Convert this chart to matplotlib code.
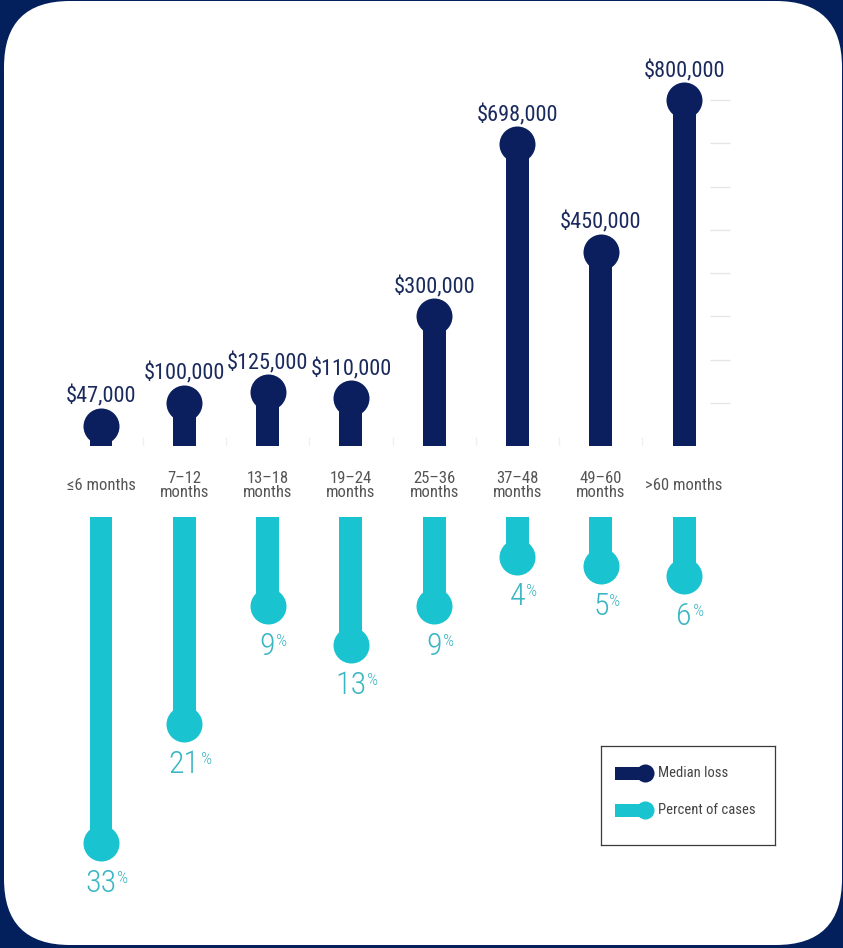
import matplotlib
matplotlib.use('Agg')
import matplotlib.pyplot as plt
from matplotlib.patches import FancyBboxPatch, Rectangle
from matplotlib.transforms import IdentityTransform
from matplotlib import font_manager

# Scheme duration vs. median loss and share of cases
categories = ['≤6 months', '7–12\nmonths', '13–18\nmonths', '19–24\nmonths',
              '25–36\nmonths', '37–48\nmonths', '49–60\nmonths', '>60 months']
median_loss = [47000, 100000, 125000, 110000, 300000, 698000, 450000, 800000]
percent_cases = [33, 21, 9, 13, 9, 4, 5, 6]
grid_levels = [100000, 200000, 300000, 400000, 500000, 600000, 700000, 800000]

NAVY = '#0b1f5e'
NAVY_TEXT = '#1b2a5c'
FRAME = '#03205c'
TEAL = '#19c3cf'
TEAL_TEXT = '#3ab6c3'
GRAY_TEXT = '#555555'


def pick_font(names):
    for n in names:
        try:
            font_manager.findfont(font_manager.FontProperties(family=n),
                                  fallback_to_default=False)
            return n
        except ValueError:
            pass
    return 'DejaVu Sans'


narrow = pick_font(['Roboto Condensed', 'Liberation Sans Narrow',
                    'DejaVu Sans Condensed', 'Roboto'])
fam = [narrow, 'DejaVu Sans']

W, H = 843, 948
fig = plt.figure(figsize=(W / 100, H / 100), dpi=100, facecolor=FRAME)

# white rounded card
card = FancyBboxPatch((4, 3), 838, 944, boxstyle='round,pad=0,rounding_size=66',
                      facecolor='white', edgecolor='none',
                      transform=IdentityTransform(), zorder=-1)
fig.add_artist(card)

x = list(range(len(categories)))
bar_w = 0.276
dot_s = 672

# top half: median loss
ax_top = fig.add_axes([59.35 / W, (H - 446) / H, 666.4 / W, 389 / H])
ax_top.set_xlim(-0.5, 7.5)
ax_top.set_ylim(0, 900000)
ax_top.axis('off')

ax_top.hlines(grid_levels, 7.31, 7.55, color='#e6e6e6', lw=1, clip_on=False)
ax_top.vlines([i + 0.5 for i in range(len(x) - 1)], 0, 20000, color='#f0f0f0', lw=1)
ax_top.bar(x, median_loss, width=bar_w, color=NAVY, zorder=2)
ax_top.scatter(x, median_loss, s=dot_s, color=NAVY, linewidths=0, zorder=3, clip_on=False)

for xi, v in zip(x, median_loss):
    ax_top.annotate(f'${v:,}', xy=(xi, v), xytext=(0, 16.5), textcoords='offset points',
                    ha='center', va='baseline', fontsize=16, color=NAVY_TEXT, family=fam)

for xi, cat in zip(x, categories):
    ax_top.annotate(cat, xy=(xi, 0), xytext=(0, -28.5), textcoords='offset points',
                    ha='center', va='center', fontsize=12, color=GRAY_TEXT,
                    family=fam, linespacing=0.95, annotation_clip=False)

# bottom half: percent of cases, hanging down
ax_bot = fig.add_axes([59.35 / W, (H - 912.2) / H, 666.4 / W, 395.2 / H])
ax_bot.set_xlim(-0.5, 7.5)
ax_bot.set_ylim(40, 0)
ax_bot.axis('off')

ax_bot.bar(x, percent_cases, width=bar_w, color=TEAL, zorder=2)
ax_bot.scatter(x, percent_cases, s=dot_s, color=TEAL, linewidths=0, zorder=3, clip_on=False)

for xi, p in zip(x, percent_cases):
    num = ax_bot.annotate(f'{p}', xy=(xi, p), xytext=(0, -35), textcoords='offset points',
                          ha='center', va='baseline', fontsize=23, fontweight='light',
                          color=TEAL_TEXT, family=fam)
    # small raised percent sign right after the number
    ax_bot.annotate('%', xy=(1, 1), xycoords=num, xytext=(0.5, -1.5),
                    textcoords='offset points', ha='left', va='top', fontsize=12.5,
                    fontweight='light', color=TEAL_TEXT, family=fam)

# legend box
leg = fig.add_axes([601 / W, (H - 845) / H, 174 / W, 99 / H])
leg.set_xlim(0, 174)
leg.set_ylim(99, 0)
leg.set_xticks([])
leg.set_yticks([])
for s in leg.spines.values():
    s.set_color('#3a3a3a')
    s.set_linewidth(0.9)

for row_y, color, label in [(27, NAVY, 'Median loss'), (64, TEAL, 'Percent of cases')]:
    leg.add_patch(Rectangle((14, row_y - 6.5), 28, 13, facecolor=color, edgecolor='none'))
    leg.plot([44], [row_y], 'o', ms=13, color=color, mec='none')
    leg.text(57, row_y, label, ha='left', va='center', fontsize=10.5,
             color='#444444', family=fam)

fig.savefig('out.png', dpi=100, facecolor=FRAME)
